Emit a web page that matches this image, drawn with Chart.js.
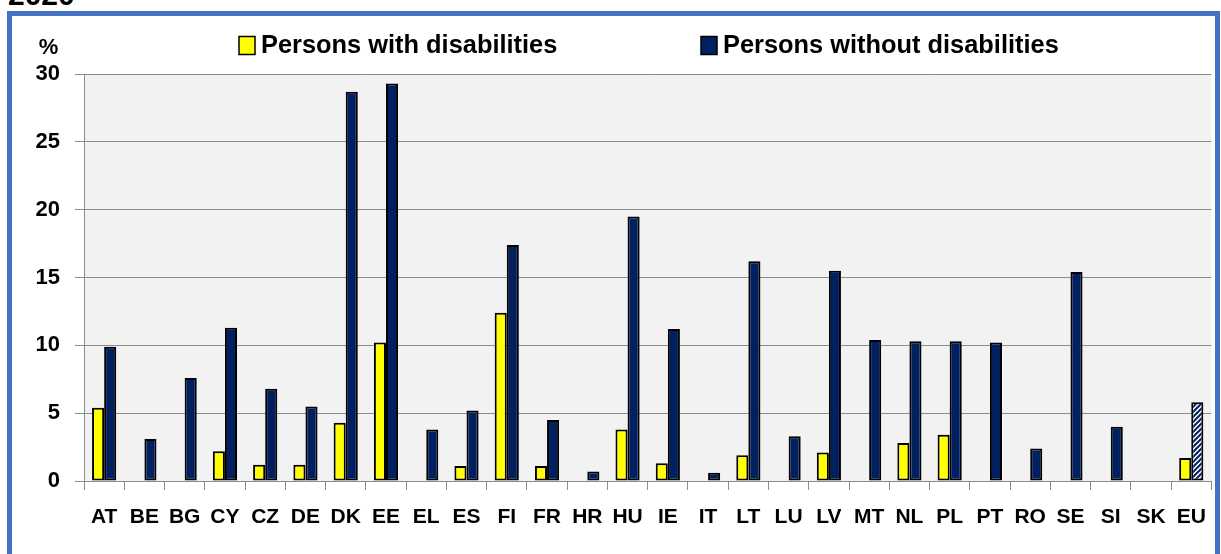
<!DOCTYPE html>
<html>
<head>
<meta charset="utf-8">
<script src="https://cdn.jsdelivr.net/npm/chart.js@4.4.1/dist/chart.umd.min.js"></script>
<style>
  html, body { margin: 0; padding: 0; background: #fff; overflow: hidden; }
  body { width: 1221px; height: 554px; position: relative; }
  #yr { position: absolute; left: 8px; top: -20px; font: bold 30px "Liberation Sans", Arial, sans-serif; line-height: 30px; color: #000; }
  #box { position: absolute; left: 7px; top: 11px; width: 1203px; height: 620px; border: 5px solid #4472C4; box-sizing: content-box; }
  #c { position: absolute; left: 0; top: 0; }
</style>
</head>
<body>
<div id="yr">2020</div>
<div id="box"></div>
<canvas id="c" width="1221" height="554"></canvas>
<script>
const categories = ['AT','BE','BG','CY','CZ','DE','DK','EE','EL','ES','FI','FR','HR','HU','IE','IT','LT','LU','LV','MT','NL','PL','PT','RO','SE','SI','SK','EU'];
const withDisabilities = [5.4, null, null, 2.2, 1.2, 1.2, 4.3, 10.2, null, 1.1, 12.4, 1.1, null, 3.8, 1.3, null, 1.9, null, 2.1, null, 2.8, 3.4, null, null, null, null, null, 1.7];
const withoutDisabilities = [9.9, 3.1, 7.6, 11.3, 6.8, 5.5, 28.7, 29.3, 3.8, 5.2, 17.4, 4.5, 0.7, 19.5, 11.2, 0.6, 16.2, 3.3, 15.5, 10.4, 10.3, 10.3, 10.2, 2.4, 15.4, 4.0, null, 5.8];
const seriesNames = ['Persons with disabilities', 'Persons without disabilities'];
const yTicks = [0, 5, 10, 15, 20, 25, 30];
const yUnit = '%';

const YELLOW = '#FFFF00';
const NAVY = '#002060';
const GRID = '#8c8c8c';

function makeHatch() {
  const c = document.createElement('canvas');
  c.width = 5; c.height = 5;
  const g = c.getContext('2d');
  g.fillStyle = '#ffffff';
  g.fillRect(0, 0, 5, 5);
  g.strokeStyle = NAVY;
  g.lineWidth = 2;
  g.beginPath();
  g.moveTo(-1, 6); g.lineTo(6, -1);
  g.moveTo(-3.5, 3.5); g.lineTo(3.5, -3.5);
  g.moveTo(1.5, 8.5); g.lineTo(8.5, 1.5);
  g.stroke();
  return g.createPattern(c, 'repeat');
}
const hatch = makeHatch();
const blueColors = categories.map(c => c === 'EU' ? hatch : NAVY);

const bgPlugin = {
  id: 'plotBg',
  beforeDraw(chart) {
    const { ctx, chartArea: a } = chart;
    ctx.save();
    ctx.fillStyle = '#f2f2f2';
    ctx.fillRect(a.left, a.top, a.right - a.left, a.bottom - a.top);
    ctx.restore();
  }
};

const extrasPlugin = {
  id: 'extras',
  afterDraw(chart) {
    const { ctx } = chart;
    ctx.save();
    ctx.fillStyle = '#000';
    ctx.font = 'bold 22px "Liberation Sans", Arial, sans-serif';
    ctx.textAlign = 'center';
    ctx.textBaseline = 'alphabetic';
    ctx.fillText(yUnit, 48.5, 54);
    const items = [
      { x: 239, color: YELLOW, text: seriesNames[0] },
      { x: 701, color: NAVY, text: seriesNames[1] }
    ];
    ctx.font = 'bold 25.4px "Liberation Sans", Arial, sans-serif';
    ctx.textAlign = 'left';
    items.forEach(it => {
      ctx.fillStyle = it.color;
      ctx.fillRect(it.x, 36.5, 16, 18);
      ctx.strokeStyle = '#000';
      ctx.lineWidth = 1.5;
      ctx.strokeRect(it.x, 36.5, 16, 18);
      ctx.fillStyle = '#000';
      ctx.fillText(it.text, it.x + 22, 52.5);
    });
    ctx.restore();
  }
};

new Chart(document.getElementById('c'), {
  type: 'bar',
  data: {
    labels: categories,
    datasets: [
      { label: seriesNames[0], data: withDisabilities, backgroundColor: YELLOW, borderColor: '#000', borderWidth: 2, borderSkipped: false },
      { label: seriesNames[1], data: withoutDisabilities, backgroundColor: blueColors, borderColor: '#000', borderWidth: 2, borderSkipped: false }
    ]
  },
  options: {
    responsive: false,
    animation: false,
    devicePixelRatio: 1,
    layout: { padding: { left: 0, right: 9, top: 74, bottom: 0 } },
    datasets: { bar: { categoryPercentage: 0.6, barPercentage: 1.0 } },
    plugins: { legend: { display: false }, tooltip: { enabled: false }, title: { display: false } },
    scales: {
      x: {
        offset: true,
        grid: { display: true, drawOnChartArea: false, drawTicks: true, tickLength: 9, color: GRID, offset: true },
        border: { display: true, color: GRID, width: 1 },
        ticks: { color: '#000', font: { family: '"Liberation Sans", Arial, sans-serif', size: 21, weight: 'bold' }, padding: 15, autoSkip: false, maxRotation: 0 },
        afterFit(s) { s.height = 73; }
      },
      y: {
        min: 0, max: 30,
        afterBuildTicks(s) { s.ticks = yTicks.map(v => ({ value: v })); },
        grid: { color: GRID, lineWidth: 1, tickLength: 9, drawTicks: true },
        border: { display: true, color: GRID, width: 1 },
        ticks: { color: '#000', font: { family: '"Liberation Sans", Arial, sans-serif', size: 22, weight: 'bold' }, padding: 15 },
        afterFit(s) { s.width = 84; }
      }
    }
  },
  plugins: [bgPlugin, extrasPlugin]
});
</script>
</body>
</html>
